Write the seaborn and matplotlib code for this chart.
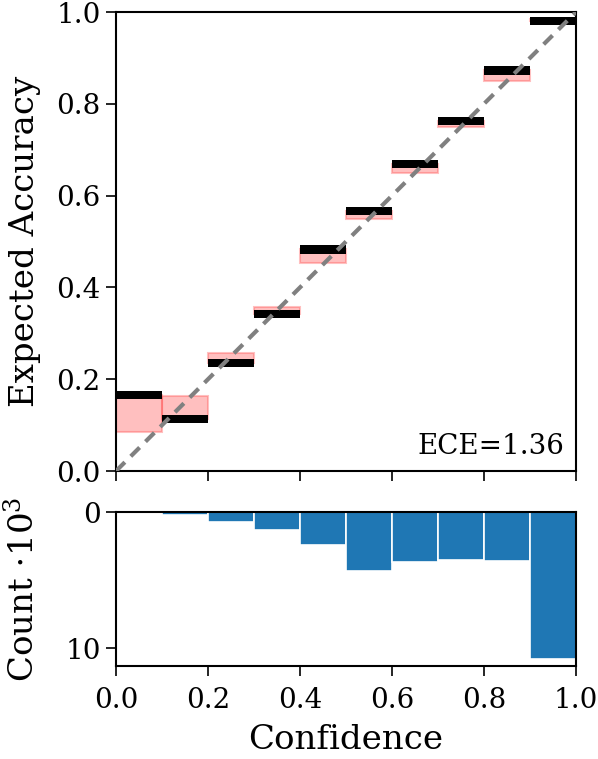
import numpy as np
import seaborn as sns
import matplotlib.pyplot as plt

# reliability diagram values, 10 bins
bin_edges = [0.0, 0.1, 0.2, 0.3, 0.4, 0.5, 0.6, 0.7, 0.8, 0.9, 1.0]
accuracy = [0.166, 0.113, 0.235, 0.343, 0.483, 0.566, 0.669, 0.762, 0.873, 0.980]
confidence = [0.085, 0.163, 0.258, 0.357, 0.454, 0.549, 0.649, 0.749, 0.851, 0.985]
counts_k = [0.0, 0.2, 0.7, 1.3, 2.4, 4.3, 3.7, 3.5, 3.6, 10.8]
ece_label = 'ECE=1.36'

sns.set_style('ticks')
plt.rcParams['font.family'] = ['DejaVu Serif']
plt.rcParams['mathtext.fontset'] = 'dejavuserif'
plt.rcParams['axes.linewidth'] = 1.5
plt.rcParams['xtick.major.size'] = 7
plt.rcParams['ytick.major.size'] = 7
plt.rcParams['xtick.major.width'] = 1.2
plt.rcParams['ytick.major.width'] = 1.2
plt.rcParams['xtick.major.pad'] = 8
plt.rcParams['ytick.major.pad'] = 4
plt.rcParams['axes.edgecolor'] = 'black'
plt.rcParams['text.color'] = 'black'
plt.rcParams['axes.labelcolor'] = 'black'
plt.rcParams['xtick.color'] = 'black'
plt.rcParams['ytick.color'] = 'black'

fig = plt.figure(figsize=(5.98, 7.59), dpi=100)
ax = fig.add_axes([0.194, 0.3794, 0.769, 0.6046])
ax2 = fig.add_axes([0.194, 0.1225, 0.769, 0.2029])

lefts = np.array(bin_edges[:-1])
width = 0.1
acc = np.array(accuracy)
conf = np.array(confidence)

# gap between confidence and accuracy
ax.bar(lefts, acc - conf, bottom=conf, width=width, align='edge',
       facecolor=(1, 0, 0, 0.25), edgecolor=(1, 0.3, 0.3, 0.35), linewidth=1.5, zorder=2)
# accuracy per bin
ax.bar(lefts, 0.018, bottom=acc - 0.009, width=width, align='edge',
       color='black', linewidth=0, zorder=3)
ax.plot([0, 1], [0, 1], ls='--', color='gray', lw=3, dashes=(3, 2), zorder=4)

ax.set_xlim(0, 1)
ax.set_ylim(0, 1)
ax.set_xticks([0, 0.2, 0.4, 0.6, 0.8, 1.0])
ax.set_xticklabels([])
ax.set_yticks([0, 0.2, 0.4, 0.6, 0.8, 1.0])
ax.tick_params(labelsize=20)
ax.set_ylabel('Expected Accuracy', fontsize=24.5)
ax.text(0.975, 0.025, ece_label, transform=ax.transAxes, ha='right', va='bottom', fontsize=20)

centers = lefts + width / 2
sns.histplot(x=centers, weights=counts_k, bins=bin_edges, ax=ax2, color='#1f77b4',
             alpha=1, edgecolor='white', linewidth=1.2)
ax2.set_xlim(0, 1)
ax2.set_ylim(11.3, 0)
ax2.set_yticks([0, 10])
ax2.set_xticks([0, 0.2, 0.4, 0.6, 0.8, 1.0])
ax2.tick_params(labelsize=20)
ax2.set_xlabel('Confidence', fontsize=24.5, labelpad=7)
ax2.set_ylabel(r'Count $\cdot 10^3$', fontsize=24.5)

ax.yaxis.set_label_coords(-0.163, 0.5)
ax2.yaxis.set_label_coords(-0.163, 0.5)

fig.savefig('out.png', dpi=100)
